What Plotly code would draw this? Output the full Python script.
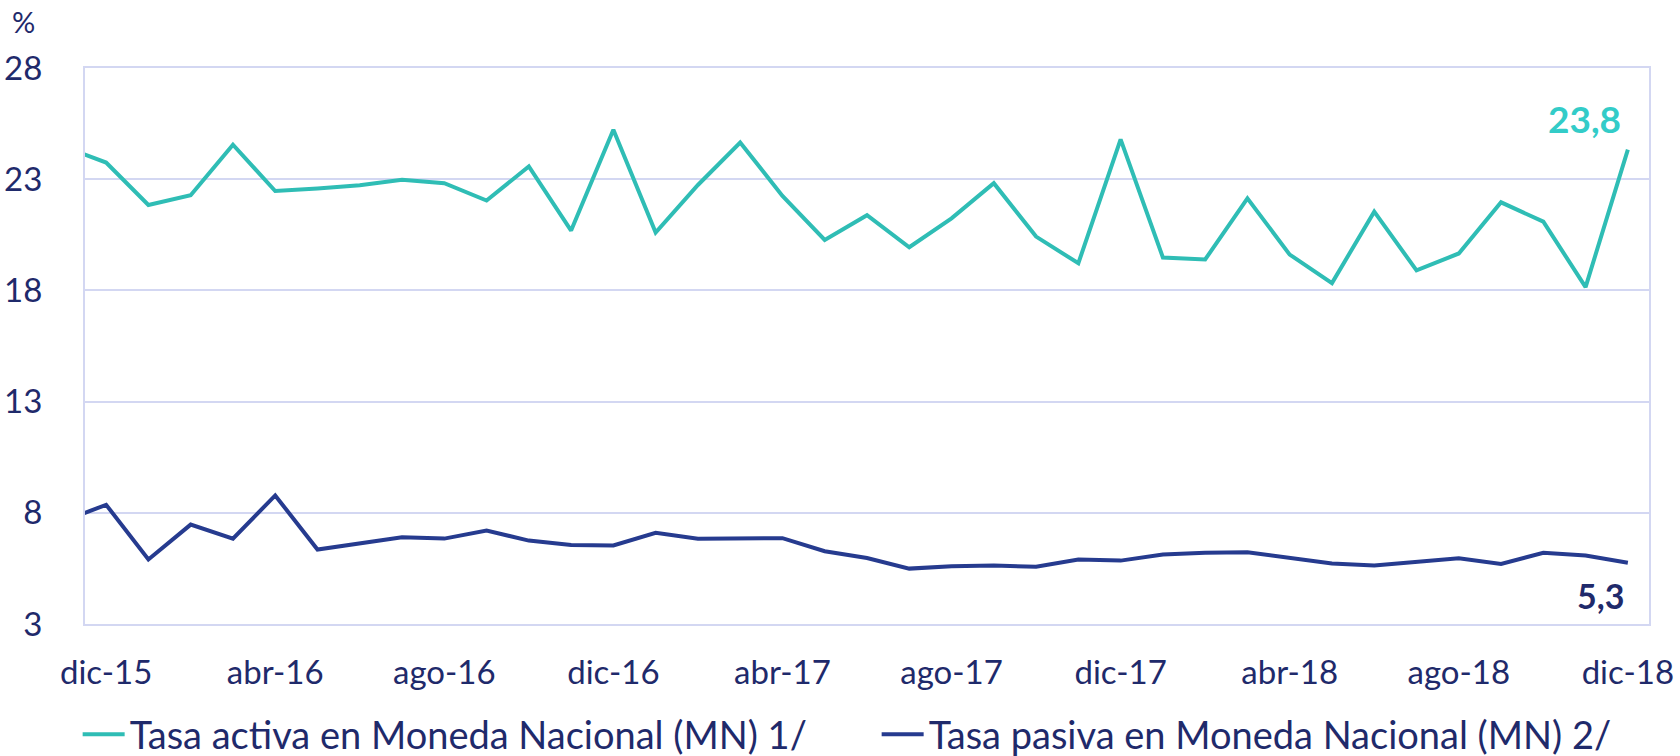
import plotly.graph_objects as go

months = ["nov-15", "dic-15", "ene-16", "feb-16", "mar-16", "abr-16", "may-16", "jun-16",
          "jul-16", "ago-16", "sep-16", "oct-16", "nov-16", "dic-16", "ene-17", "feb-17",
          "mar-17", "abr-17", "may-17", "jun-17", "jul-17", "ago-17", "sep-17", "oct-17",
          "nov-17", "dic-17", "ene-18", "feb-18", "mar-18", "abr-18", "may-18", "jun-18",
          "jul-18", "ago-18", "sep-18", "oct-18", "nov-18", "dic-18"]

tasa_activa = [24.45, 23.75, 21.84, 22.28, 24.55, 22.47, 22.58, 22.73, 22.97, 22.82, 22.04, 23.57,
               20.69, 25.22, 20.60, 22.74, 24.65, 22.25, 20.27, 21.38, 19.94, 21.24, 22.82, 20.42,
               19.22, 24.79, 19.48, 19.39, 22.14, 19.61, 18.33, 21.54, 18.90, 19.66, 21.96, 21.09,
               18.15, 24.33]

tasa_pasiva = [7.64, 8.36, 5.90, 7.47, 6.84, 8.78, 6.35, 6.62, 6.90, 6.84, 7.20, 6.75,
               6.55, 6.53, 7.10, 6.83, 6.83, 6.86, 6.27, 5.97, 5.49, 5.60, 5.63, 5.57,
               5.90, 5.85, 6.12, 6.20, 6.23, 5.97, 5.72, 5.63, 5.79, 5.96, 5.70, 6.20,
               6.08, 5.75]

series_names = ["Tasa activa en Moneda Nacional (MN) 1/", "Tasa pasiva en Moneda Nacional (MN) 2/"]
end_labels = ["23,8", "5,3"]
x_ticks = ["dic-15", "abr-16", "ago-16", "dic-16", "abr-17", "ago-17", "dic-17", "abr-18", "ago-18", "dic-18"]
y_ticks = [3, 8, 13, 18, 23, 28]

TEAL = "#2FBDB5"
NAVY = "#263B8F"
TEXT = "#1F2A6B"
GRID = "#D3D7F2"
FONT = "Lato"

fig = go.Figure()
fig.add_trace(go.Scatter(x=months, y=tasa_activa, mode="lines", name=series_names[0],
                         line=dict(color=TEAL, width=4)))
fig.add_trace(go.Scatter(x=months, y=tasa_pasiva, mode="lines", name=series_names[1],
                         line=dict(color=NAVY, width=4)))

fig.update_layout(
    width=1680, height=756,
    margin=dict(l=85, r=31, t=68, b=132, autoexpand=False),
    paper_bgcolor="white", plot_bgcolor="white",
    font=dict(family=FONT, color=TEXT, size=33),
    showlegend=True,
    legend=dict(orientation="h", x=-0.0047, xanchor="left", y=-0.199, yanchor="middle",
                font=dict(size=38, color=TEXT), entrywidth=742, itemwidth=42,
                bgcolor="rgba(0,0,0,0)"),
)

fig.update_xaxes(type="category", range=[0.5, 37.5], tickmode="array",
                 tickvals=x_ticks, ticktext=x_ticks, showgrid=False, automargin=False,
                 showline=True, mirror=True, linecolor=GRID, linewidth=2,
                 ticks="outside", ticklen=18, tickcolor="rgba(0,0,0,0)",
                 tickfont=dict(size=33, color=TEXT))
fig.update_yaxes(range=[3, 28], tickmode="array", tickvals=y_ticks, automargin=False,
                 showgrid=True, gridcolor=GRID, gridwidth=1.5, zeroline=False,
                 showline=True, mirror=True, linecolor=GRID, linewidth=2,
                 ticks="", ticklabelstandoff=34,
                 tickfont=dict(size=33, color=TEXT))

fig.add_annotation(text="%", xref="paper", yref="paper", x=-0.0395, y=1.083,
                   xanchor="center", yanchor="middle", showarrow=False,
                   font=dict(size=29, color=TEXT, family=FONT))
fig.add_annotation(text="<b>" + end_labels[0] + "</b>", xref="paper", yref="paper",
                   x=0.959, y=0.9096, xanchor="center", yanchor="middle", showarrow=False,
                   font=dict(size=37, color="#33CCC8", family=FONT))
fig.add_annotation(text="<b>" + end_labels[1] + "</b>", xref="paper", yref="paper",
                   x=0.969, y=0.052, xanchor="center", yanchor="middle", showarrow=False,
                   font=dict(size=34, color=TEXT, family=FONT))

fig.write_html("out.html", config={"displayModeBar": False},
               post_script="document.body.style.margin='0px';")
